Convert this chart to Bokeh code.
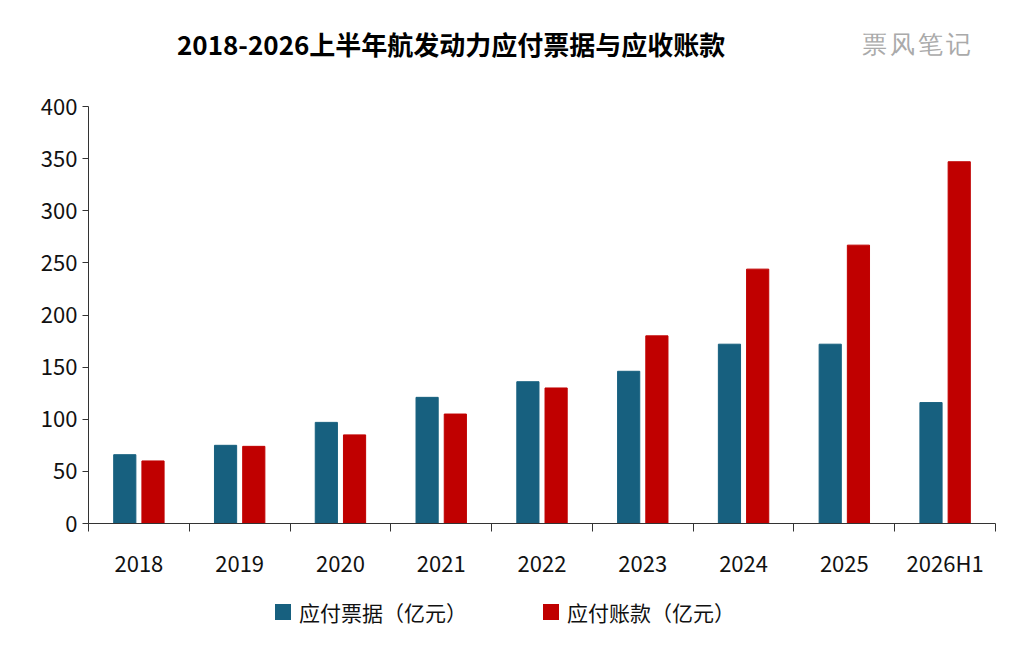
from bokeh.plotting import figure
from bokeh.models import FixedTicker, LinearAxis, Range1d, Div
from bokeh.layouts import column
from bokeh.embed import file_html
from bokeh.resources import INLINE

years = ["2018", "2019", "2020", "2021", "2022", "2023", "2024", "2025", "2026H1"]
notes_payable = [66, 75, 97, 121, 136, 146, 172, 172, 116]
accounts_payable = [60, 74, 85, 105, 130, 180, 244, 267, 347]
y_ticks = [0, 50, 100, 150, 200, 250, 300, 350, 400]
series_names = ["应付票据（亿元）", "应付账款（亿元）"]
title_text = "2018-2026上半年航发动力应付票据与应收账款"
watermark = "票风笔记"

BLUE = "#17607f"
RED = "#c00000"
FONT = "Noto Sans CJK SC"

head = Div(width=1000, height=80, text=(
    f'<div style="position:relative;width:1000px;height:80px;font-family:\'{FONT}\';">'
    f'<span style="position:absolute;left:172px;top:20px;font-size:26px;font-weight:bold;color:#000;">{title_text}</span>'
    f'<span style="position:absolute;left:857px;top:22px;font-size:25px;color:#aaaaaa;font-family:serif;letter-spacing:3px;">{watermark}</span>'
    '</div>'))

p = figure(frame_width=907, frame_height=417, output_backend="svg", toolbar_location=None,
           x_range=Range1d(0, len(years)), y_range=Range1d(0, 400),
           min_border_left=88, min_border_right=13, min_border_top=16, min_border_bottom=0)
p.outline_line_color = None
p.grid.visible = False
p.xaxis.visible = False

xs = list(range(len(years)))
cb = [i + 0.5 - 0.14 for i in xs]
cr = [i + 0.5 + 0.14 for i in xs]
p.vbar(x=cb, top=notes_payable, width=0.22, color=BLUE)
p.vbar(x=cr, top=accounts_payable, width=0.22, color=RED)

ax1 = LinearAxis(ticker=FixedTicker(ticks=list(range(len(years) + 1))),
                 major_label_text_font_size="0px", major_tick_out=8, major_tick_in=0,
                 minor_tick_line_color=None, axis_line_color="#333333",
                 major_tick_line_color="#333333")
ax2 = LinearAxis(ticker=FixedTicker(ticks=[i + 0.5 for i in xs]),
                 major_label_overrides={i + 0.5: y for i, y in zip(xs, years)},
                 major_tick_line_color=None, minor_tick_line_color=None, axis_line_color=None,
                 major_label_text_font=FONT, major_label_text_font_size="22px",
                 major_label_text_color="#111111", major_label_standoff=8)
p.add_layout(ax1, "below")
p.add_layout(ax2, "below")

p.yaxis.ticker = FixedTicker(ticks=y_ticks)
p.yaxis.major_label_text_font = FONT
p.yaxis.major_label_text_font_size = "22px"
p.yaxis.major_label_text_color = "#111111"
p.yaxis.axis_line_color = "#333333"
p.yaxis.major_tick_line_color = "#333333"
p.yaxis.major_tick_out = 6
p.yaxis.major_tick_in = 0
p.yaxis.minor_tick_line_color = None

def item(color, name):
    return (f'<span style="display:inline-flex;align-items:center;margin:0 38px;">'
            f'<span style="display:inline-block;width:16px;height:16px;background:{color};margin-right:8px;"></span>'
            f'<span style="font-size:21px;color:#111;font-family:\'{FONT}\';">{name}</span></span>')

foot = Div(width=1000, height=50, text=(
    '<div style="width:1000px;text-align:center;padding-top:12px;padding-left:0px;">'
    + item(BLUE, series_names[0]) + item(RED, series_names[1]) + '</div>'))

open("out.html", "w").write(file_html(column(head, p, foot, spacing=0), INLINE))
